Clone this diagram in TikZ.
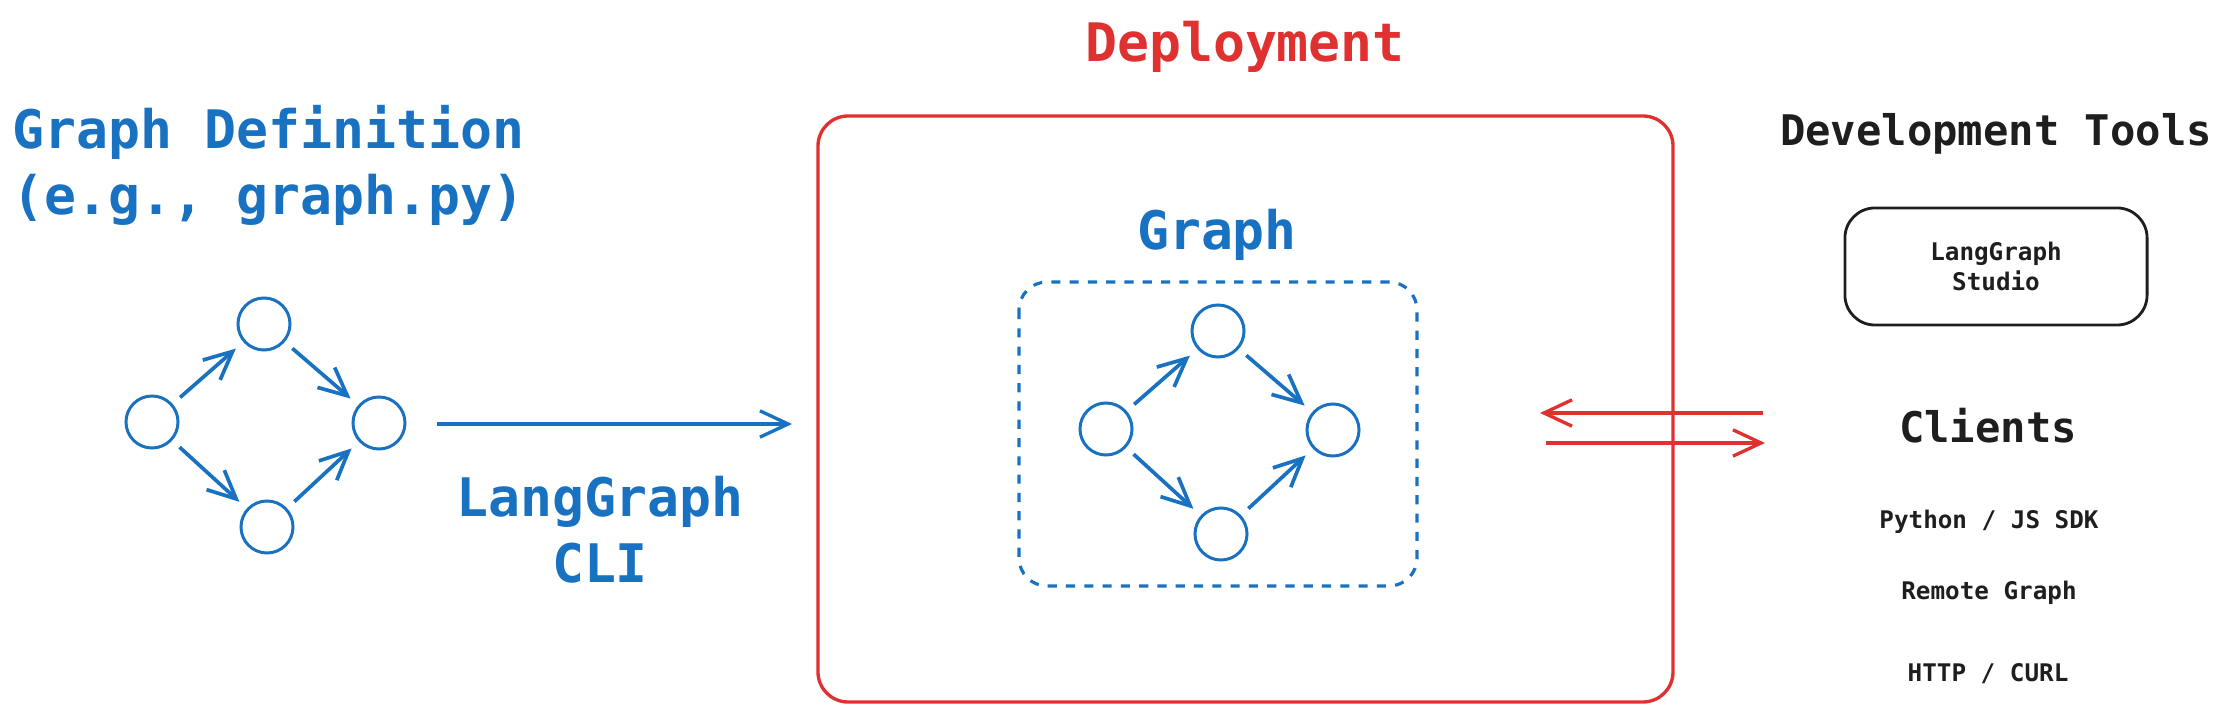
\documentclass[tikz,border=0pt]{standalone}
\usepackage{fontspec}
\setmonofont{DejaVu Sans Mono}
\usetikzlibrary{arrows.meta}
\definecolor{lgblue}{HTML}{1971C2}
\definecolor{lgred}{HTML}{E03131}
\definecolor{lgblack}{HTML}{1E1E1E}

\begin{document}
\begin{tikzpicture}[x=0.01cm,y=-0.01cm,>={Straight Barb[length=8pt,width=7.5pt]},
        vert/.style={draw=lgblue,circle,line width=0.85pt,minimum size=0.52cm,inner sep=0},
        edge/.style={->,lgblue,line width=1.05pt,shorten <=2.8pt,shorten >=2.8pt},
        head/.style={font=\ttfamily\bfseries\fontsize{15.1}{18.8}\selectfont,inner sep=0,align=center},
        side/.style={font=\ttfamily\bfseries\fontsize{12}{15}\selectfont,text=lgblack,inner sep=0},
        small/.style={font=\ttfamily\bfseries\fontsize{6.9}{8.5}\selectfont,text=lgblack,inner sep=0,align=center}]
        \useasboundingbox (0,0) rectangle (2224,710);
        % headings (base = last line)
        \node[head,text=lgblue,align=left,anchor=base west] (def) at (12,215) {Graph Definition\\(e.g., graph.py)};
        \node[head,text=lgred,anchor=base] (deptitle) at (1245,62) {Deployment};
        \node[head,text=lgblue,anchor=base] (gtitle) at (1217,250) {Graph};
        \node[head,text=lgblue,anchor=base] (cli) at (600,583) {LangGraph\\CLI};
        % two copies of the graph
        \foreach \p/\dx/\dy in {l/0/0,g/954/7}{
            \begin{scope}[shift={(\dx,\dy)}]
                \node[vert] (\p a) at (152,422) {};
                \node[vert] (\p b) at (264,324) {};
                \node[vert] (\p c) at (379,423) {};
                \node[vert] (\p d) at (267,527) {};
                \draw[edge] (\p a)--(\p b);
                \draw[edge] (\p b)--(\p c);
                \draw[edge] (\p a)--(\p d);
                \draw[edge] (\p d)--(\p c);
            \end{scope}
        }
        % deployment and graph boxes
        \draw[lgred,line width=0.95pt,rounded corners=0.3cm] (818,116) rectangle (1673,702);
        \draw[lgblue,line width=0.9pt,dash pattern=on 2.6pt off 2.6pt,rounded corners=0.28cm] (1019,282) rectangle (1417,586);
        % cli arrow
        \coordinate (cs) at (437,424);
        \coordinate (ce) at (792,424);
        \draw[->,lgblue,line width=0.95pt] (cs)--(ce);
        % right column
        \node[side,anchor=base] (tools) at (1996,146) {Development Tools};
        \node[small,draw=lgblack,line width=0.8pt,rounded corners=0.3cm,minimum width=3.02cm,minimum height=1.17cm] (studio) at (1996,266.5) {LangGraph\\Studio};
        \node[side,anchor=base] (clients) at (1988,443) {Clients};
        \node[small,anchor=base] (sdk) at (1989,529) {Python / JS SDK};
        \node[small,anchor=base] (remote) at (1989,600) {Remote Graph};
        \node[small,anchor=base] (http) at (1988,682) {HTTP / CURL};
        % requests and responses
        \coordinate (r1) at (1763,413);
        \coordinate (r2) at (1540,413);
        \coordinate (q1) at (1546,443);
        \coordinate (q2) at (1765,443);
        \draw[->,lgred,line width=0.95pt] (r1)--(r2);
        \draw[->,lgred,line width=0.95pt] (q1)--(q2);
    \end{tikzpicture}
\end{document}
